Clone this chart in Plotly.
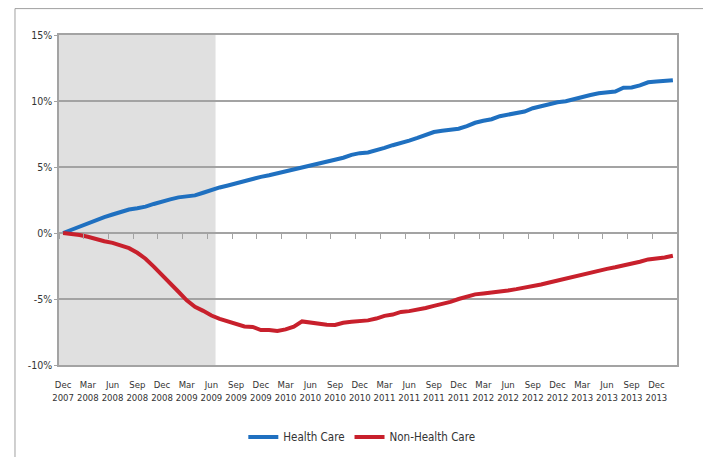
import plotly.graph_objects as go

months = ["Dec", "Jan", "Feb", "Mar", "Apr", "May", "Jun", "Jul", "Aug", "Sep", "Oct", "Nov"]
# monthly categories Dec 2007 .. Feb 2014
categories = []
for k in range(75):
    m = months[k % 12]
    yr = 2007 + (k + 11) // 12
    categories.append(f"{m} {yr}")

health_care = [0.0, 0.25, 0.5, 0.75, 1.0, 1.2, 1.4, 1.6, 1.78, 1.88,
               2.0, 2.2, 2.4, 2.55, 2.7, 2.78, 2.85, 3.05, 3.28, 3.45,
               3.6, 3.78, 3.95, 4.1, 4.25, 4.38, 4.52, 4.72, 4.85, 4.95,
               5.1, 5.25, 5.4, 5.5, 5.7, 5.92, 6.05, 6.1, 6.25, 6.45,
               6.65, 6.8, 7.0, 7.2, 7.45, 7.65, 7.75, 7.8, 7.9, 8.1,
               8.35, 8.5, 8.62, 8.85, 8.95, 9.05, 9.2, 9.45, 9.62, 9.78,
               9.9, 9.98, 10.15, 10.28, 10.45, 10.58, 10.68, 10.72, 11.0, 11.02,
               11.18, 11.42, 11.47, 11.5, 11.58]

non_health_care = [0.0, -0.05, -0.15, -0.28, -0.48, -0.62, -0.75, -0.92, -1.15, -1.5,
                   -1.95, -2.55, -3.15, -3.8, -4.45, -5.1, -5.6, -5.9, -6.25, -6.5,
                   -6.7, -6.9, -7.08, -7.12, -7.35, -7.35, -7.42, -7.3, -7.1, -6.7,
                   -6.8, -6.88, -6.95, -6.97, -6.8, -6.72, -6.68, -6.62, -6.48, -6.28,
                   -6.18, -5.98, -5.92, -5.82, -5.68, -5.52, -5.4, -5.22, -5.0, -4.82,
                   -4.65, -4.58, -4.52, -4.45, -4.35, -4.25, -4.15, -4.05, -3.9, -3.75,
                   -3.6, -3.42, -3.3, -3.15, -2.98, -2.85, -2.72, -2.6, -2.48, -2.32,
                   -2.18, -2.0, -1.95, -1.85, -1.72]

x_tick_labels = ["Dec<br>2007", "Mar<br>2008", "Jun<br>2008", "Sep<br>2008",
                 "Dec<br>2008", "Mar<br>2009", "Jun<br>2009", "Sep<br>2009",
                 "Dec<br>2009", "Mar<br>2010", "Jun<br>2010", "Sep<br>2010",
                 "Dec<br>2010", "Mar<br>2011", "Jun<br>2011", "Sep<br>2011",
                 "Dec<br>2011", "Mar<br>2012", "Jun<br>2012", "Sep<br>2012",
                 "Dec<br>2012", "Mar<br>2013", "Jun<br>2013", "Sep<br>2013",
                 "Dec<br>2013"]
y_tick_values = [-10, -5, 0, 5, 10, 15]
y_tick_labels = ["-10%", "-5%", "0%", "5%", "10%", "15%"]
recession_start = "Dec 2007"
recession_end = "Jun 2009"

idx = list(range(len(categories)))
FONT = "Liberation Sans Narrow, Arial Narrow, DejaVu Sans Condensed, sans-serif"
GRID = "#a3a3a3"

fig = go.Figure()
fig.add_trace(go.Scatter(x=idx, y=health_care, mode="lines", name="Health Care",
                         line=dict(color="#1f70c0", width=4), xaxis="x", yaxis="y"))
fig.add_trace(go.Scatter(x=idx, y=non_health_care, mode="lines", name="Non-Health Care",
                         line=dict(color="#c8202c", width=4), xaxis="x2", yaxis="y"))

fig.add_shape(type="rect", xref="x", yref="y domain",
              x0=categories.index(recession_start) - 0.5,
              x1=categories.index(recession_end) + 0.5,
              y0=0, y1=1, fillcolor="#e0e0e0", line=dict(width=0), layer="below")
# outer chart frame
fig.add_shape(type="rect", xref="paper", yref="paper", x0=-0.0712, x1=1.050,
              y0=-0.32, y1=1.080, line=dict(color="#a0a0a0", width=1),
              fillcolor="rgba(0,0,0,0)", layer="below")

n = len(categories)
fig.update_layout(
    width=703, height=449,
    margin=dict(l=51, r=34, t=27, b=92, autoexpand=False),
    paper_bgcolor="white", plot_bgcolor="white",
    font=dict(family=FONT, size=10, color="#333333"),
    showlegend=True,
    legend=dict(orientation="h", x=0.49, xanchor="center", y=-0.218, yanchor="middle",
                font=dict(family=FONT, size=11.5, color="#333333"),
                itemwidth=30, tracegroupgap=0),
    xaxis=dict(range=[-0.5, n - 0.5], tickvals=list(range(0, n, 3))[:len(x_tick_labels)],
               ticktext=x_tick_labels, ticks="", tickangle=0, automargin=False,
               ticklabelstandoff=10,
               showgrid=False, zeroline=False,
               showline=True, mirror=True, linecolor=GRID, linewidth=1.5,
               tickfont=dict(family=FONT, size=9.5, color="#333333")),
    xaxis2=dict(range=[-0.5, n - 0.5], overlaying="x", anchor="free", position=0.4,
                side="bottom", tickvals=[k - 0.5 for k in range(0, n + 1, 3)],
                showticklabels=False, ticks="outside", ticklen=5, tickwidth=1,
                tickcolor=GRID, showgrid=False, zeroline=False, showline=False,
                automargin=False),
    yaxis=dict(range=[-10, 15], tickvals=y_tick_values, ticktext=y_tick_labels,
               showgrid=True, gridcolor=GRID, gridwidth=1.5, automargin=False,
               zeroline=True, zerolinecolor=GRID, zerolinewidth=1.5,
               showline=True, mirror=True, linecolor=GRID, linewidth=1.5,
               ticks="outside", ticklen=3, tickcolor=GRID,
               tickfont=dict(family=FONT, size=10.5, color="#333333")),
)

fig.write_html("out.html")
